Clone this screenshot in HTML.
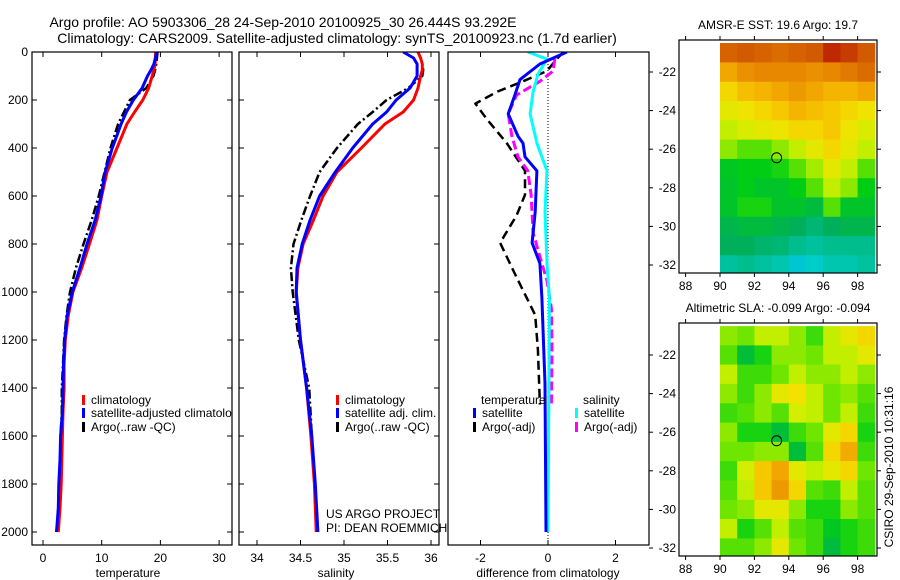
<!DOCTYPE html>
<html><head><meta charset="utf-8"><style>
html,body{margin:0;padding:0;background:#fff;}
svg{display:block;font-family:"Liberation Sans",sans-serif;}
</style></head><body>
<svg id="fig" width="900" height="580" viewBox="0 0 900 580" xmlns="http://www.w3.org/2000/svg">
<defs>
<clipPath id="c1"><rect x="32" y="52" width="200" height="493"/></clipPath>
<clipPath id="c2"><rect x="239" y="52" width="200" height="493"/></clipPath>
<clipPath id="c3"><rect x="448" y="52" width="201" height="493"/></clipPath>
<clipPath id="c2t"><rect x="239" y="40" width="210" height="510"/></clipPath>
</defs>
<text x="283" y="27" font-size="14" text-anchor="middle">Argo profile: AO 5903306_28 24-Sep-2010 20100925_30 26.444S 93.292E</text>
<text x="337" y="43" font-size="14" text-anchor="middle">Climatology: CARS2009. Satellite-adjusted climatology: synTS_20100923.nc (1.7d earlier)</text>
<g id="g1"></g>
<g id="g2"></g>
<g id="g3"></g>
<g id="g4"></g>
<g id="g5"></g>
<text transform="translate(893,467) rotate(-90)" font-size="12" text-anchor="middle">CSIRO 29-Sep-2010 10:31:16</text>
</svg>
<script>
// ---- profile data ----
const depthsT = [0,50,75,100,150,200,250,300,400,500,600,700,800,900,1000,1100,1200,1300,1400,1500,1600,1700,1800,1900,2000];
const tempClim = [19.2,19.1,18.9,18.6,18.0,17.0,15.6,14.3,12.6,10.9,10.0,9.2,7.9,6.6,5.1,4.3,3.8,3.6,3.6,3.4,3.3,3.2,3.1,2.9,2.6];
const tempSat  = [19.4,18.9,18.4,17.8,16.9,15.4,14.2,13.3,11.8,10.6,9.9,8.9,7.5,6.3,5.0,4.1,3.7,3.5,3.4,3.3,3.0,2.9,2.7,2.6,2.3];
const tempArgo = [19.5,19.3,19.1,18.8,17.6,14.8,13.8,12.8,11.5,10.5,9.5,8.3,6.9,5.6,4.6,4.0,3.6,3.4,3.2,3.2,3.0,2.9,2.7,2.6,2.3];
const depthsS = [0,25,50,75,100,150,200,250,300,400,500,600,700,800,900,1000,1200,1400,1600,1800,2000];
const salClim = [35.85,35.88,35.9,35.9,35.88,35.85,35.8,35.68,35.47,35.2,34.92,34.76,34.65,34.53,34.47,34.45,34.5,34.57,34.62,34.66,34.68];
const salSat  = [35.68,35.8,35.84,35.84,35.84,35.76,35.6,35.49,35.33,35.1,34.9,34.72,34.61,34.52,34.46,34.45,34.5,34.57,34.63,34.67,34.7];
const salArgo = [35.85,35.88,35.9,35.91,35.9,35.74,35.49,35.33,35.16,34.92,34.72,34.61,34.51,34.42,34.39,34.41,34.48,34.6,34.63,34.66,34.69];
const dTdepth = [0,50,115,179,258,351,380,437,495,666,795,881,1025,1383,2000];
const dTsat   = [0.56,-0.24,-0.83,-0.98,-1.18,-0.89,-0.74,-0.68,-0.33,-0.38,-0.47,-0.24,-0.18,-0.09,-0.06];
const dSdepth = [0,29,93,165,258,380,495,666,881,1025,2000];
const dSsat   = [-0.6,-0.03,-0.3,-0.44,-0.53,-0.33,-0.03,-0.09,-0.03,0.04,0.0];
const dTAdepth= [0,29,79,122,165,215,280,380,495,595,681,795,939,1096,1240,1469];
const dTargo  = [0.46,0.26,-0.03,-0.74,-1.5,-2.15,-1.81,-1.22,-0.68,-0.68,-0.93,-1.42,-0.93,-0.38,-0.3,-0.24];
const dSAdepth= [29,79,122,179,258,351,437,495,595,752,853,953,1068,1240,1469];
const dSargo  = [0.2,0.15,-0.24,-0.93,-1.18,-1.07,-0.89,-0.6,-0.5,-0.44,-0.24,-0.03,0.1,0.12,0.1];
const depthTicks = [0,200,400,600,800,1000,1200,1400,1600,1800,2000];
const tempTicks = [0,10,20,30];
const salTicks = [34,34.5,35,35.5,36];
const salTickLabels = ["34","34.5","35","35.5","36"];
const diffTicks = [-2,0,2];
// ---- map data (rows lat 21..32, cols lon 90..98), normalised colour index ----
const mapLons = [90,91,92,93,94,95,96,97,98];
const mapLats = [21,22,23,24,25,26,27,28,29,30,31,32];
const sstGrid = [
[0.9,0.92,0.9,0.88,0.9,0.92,0.97,0.95,0.92],
[0.75,0.8,0.82,0.82,0.82,0.8,0.82,0.85,0.88],
[0.65,0.7,0.72,0.75,0.78,0.75,0.72,0.72,0.75],
[0.6,0.62,0.65,0.68,0.72,0.7,0.68,0.65,0.62],
[0.55,0.58,0.6,0.62,0.65,0.65,0.68,0.62,0.58],
[0.5,0.45,0.45,0.5,0.55,0.6,0.65,0.6,0.55],
[0.36,0.38,0.38,0.4,0.45,0.52,0.6,0.55,0.45],
[0.35,0.38,0.35,0.35,0.38,0.45,0.55,0.5,0.38],
[0.35,0.4,0.4,0.35,0.35,0.32,0.45,0.35,0.35],
[0.3,0.32,0.32,0.3,0.28,0.25,0.28,0.3,0.3],
[0.28,0.28,0.26,0.25,0.22,0.2,0.22,0.22,0.22],
[0.2,0.22,0.2,0.18,0.12,0.15,0.18,0.18,0.2]];
const slaGrid = [
[0.5,0.47,0.55,0.55,0.5,0.43,0.55,0.6,0.65],
[0.45,0.33,0.4,0.5,0.5,0.47,0.55,0.55,0.6],
[0.55,0.43,0.43,0.47,0.55,0.5,0.5,0.55,0.5],
[0.5,0.43,0.5,0.6,0.63,0.55,0.47,0.5,0.45],
[0.43,0.45,0.5,0.45,0.57,0.55,0.47,0.55,0.43],
[0.5,0.4,0.4,0.33,0.43,0.47,0.6,0.65,0.4],
[0.47,0.47,0.5,0.5,0.33,0.45,0.65,0.74,0.43],
[0.43,0.57,0.68,0.75,0.6,0.55,0.6,0.65,0.47],
[0.45,0.55,0.68,0.78,0.65,0.45,0.43,0.55,0.45],
[0.47,0.5,0.6,0.6,0.5,0.4,0.4,0.5,0.45],
[0.55,0.4,0.45,0.55,0.45,0.43,0.36,0.4,0.43],
[0.45,0.45,0.5,0.6,0.47,0.43,0.32,0.4,0.43]];
const mapXTicks = [88,90,92,94,96,98];
const mapYTicks = [22,24,26,28,30,32];
const argoLon = 93.292, argoLat = 26.444;

const NS="http://www.w3.org/2000/svg";
function mk(parent,tag,attrs,text){const e=document.createElementNS(NS,tag);for(const k in attrs)e.setAttribute(k,attrs[k]);if(text!==undefined)e.textContent=text;parent.appendChild(e);return e;}
const yD = d => 52 + d*0.24;
function poly(g,xs,ds,fx,style,name,clip){
  const pts = xs.map((v,i)=>fx(v).toFixed(1)+","+yD(ds[i]).toFixed(1)).join(" ");
  const p = mk(g,"polyline",Object.assign({points:pts,fill:"none","clip-path":"url(#"+clip+")","stroke-linejoin":"round"},style));
  
  
}
function frame(g,x0,x1,name){
  const r=mk(g,"rect",{x:x0,y:52,width:x1-x0,height:493,fill:"none",stroke:"#000","stroke-width":1.2});
  
  
}
function xticks(g,vals,labels,fx,name){
  vals.forEach((v,i)=>{const x=fx(v);
    mk(g,"line",{x1:x,x2:x,y1:545,y2:540,stroke:"#000"});
    mk(g,"line",{x1:x,x2:x,y1:52,y2:57,stroke:"#000"});
    const t=mk(g,"text",{x:x,y:562,"font-size":12,"text-anchor":"middle"},labels[i]);
    
    
  });
}
function yticks(g,x0,x1,labels){
  depthTicks.forEach(d=>{const y=yD(d);
    mk(g,"line",{x1:x0,x2:x0+5,y1:y,y2:y,stroke:"#000"});
    mk(g,"line",{x1:x1,x2:x1-5,y1:y,y2:y,stroke:"#000"});
    if(labels){const t=mk(g,"text",{x:28,y:y+4,"font-size":12,"text-anchor":"end"},String(d));
      
      }
  });
}
function legend(g,x,y,color,label,name,clip){
  mk(g,"rect",{x:x,y:y-9,width:3,height:10,fill:color});
  const t=mk(g,"text",{x:x+9,y:y,"font-size":12},label);
  if(clip)t.setAttribute("clip-path","url(#"+clip+")");
  
  
}
// Panel 1
const g1=document.getElementById("g1");
const fT = v => 43 + v*5.87;
poly(g1,tempArgo,depthsT,fT,{stroke:"#000","stroke-width":2.5,"stroke-dasharray":"9,3,2,3"},"argo-temperature-line","c1");
poly(g1,tempClim,depthsT,fT,{stroke:"#f00","stroke-width":3},"climatology-temperature-line","c1");
poly(g1,tempSat,depthsT,fT,{stroke:"#00f","stroke-width":3},"satellite-temperature-line","c1");
frame(g1,32,232,"temperature-axes");
yticks(g1,32,232,true);
xticks(g1,tempTicks,tempTicks.map(String),fT,"temperature-tick-label");
mk(g1,"text",{x:128,y:577,"font-size":12,"text-anchor":"middle"},"temperature");
legend(g1,82,404,"#f00","climatology","legend-climatology",null);
legend(g1,82,417,"#00f","satellite-adjusted climatology","legend-satellite-adjusted","c1");
legend(g1,82,431,"#000","Argo(..raw -QC)","legend-argo",null);
// Panel 2
const g2=document.getElementById("g2");
const fS = v => 257 + (v-34)*87;
poly(g2,salArgo,depthsS,fS,{stroke:"#000","stroke-width":2.5,"stroke-dasharray":"9,3,2,3"},"argo-salinity-line","c2");
poly(g2,salClim,depthsS,fS,{stroke:"#f00","stroke-width":3},"climatology-salinity-line","c2");
poly(g2,salSat,depthsS,fS,{stroke:"#00f","stroke-width":3},"satellite-salinity-line","c2");
frame(g2,239,439,"salinity-axes");
yticks(g2,239,439,false);
xticks(g2,salTicks,salTickLabels,fS,"salinity-tick-label");
mk(g2,"text",{x:336,y:577,"font-size":12,"text-anchor":"middle"},"salinity");
legend(g2,336,404,"#f00","climatology","legend-climatology-2",null);
legend(g2,336,417,"#00f","satellite adj. clim.","legend-satellite-adj-2",null);
legend(g2,336,431,"#000","Argo(..raw -QC)","legend-argo-2",null);
mk(g2,"text",{x:326,y:518,"font-size":12},"US ARGO PROJECT");
mk(g2,"text",{x:326,y:532,"font-size":12,"clip-path":"url(#c2t)"},"PI: DEAN ROEMMICH");
// Panel 3
const g3=document.getElementById("g3");
const fD = v => 548 + v*33.75;
mk(g3,"line",{x1:548,x2:548,y1:52,y2:545,stroke:"#000","stroke-dasharray":"1,2"});
poly(g3,dTargo,dTAdepth,fD,{stroke:"#000","stroke-width":2.5,"stroke-dasharray":"9,5"},"argo-temperature-diff-line","c3");
poly(g3,dSargo,dSAdepth,fD,{stroke:"#f0f","stroke-width":3,"stroke-dasharray":"9,4"},"argo-salinity-diff-line","c3");
poly(g3,dSsat,dSdepth,fD,{stroke:"#0ff","stroke-width":3},"satellite-salinity-diff-line","c3");
poly(g3,dTsat,dTdepth,fD,{stroke:"#00f","stroke-width":3},"satellite-temperature-diff-line","c3");
frame(g3,448,649,"difference-axes");
xticks(g3,diffTicks,diffTicks.map(String),fD,"difference-tick-label");
mk(g3,"text",{x:548,y:577,"font-size":12,"text-anchor":"middle"},"difference from climatology");
mk(g3,"text",{x:481,y:404,"font-size":12},"temperature");
mk(g3,"text",{x:583,y:404,"font-size":12},"salinity");
legend(g3,473,417,"#00f","satellite","legend-temp-satellite",null);
legend(g3,473,431,"#000","Argo(-adj)","legend-temp-argo",null);
legend(g3,575,417,"#0ff","satellite","legend-sal-satellite",null);
legend(g3,575,431,"#f0f","Argo(-adj)","legend-sal-argo",null);
// Maps
const cstops=[[0,[0,170,255]],[0.15,[0,205,200]],[0.28,[0,175,90]],[0.38,[0,205,20]],[0.47,[110,230,0]],[0.56,[205,240,0]],[0.63,[245,225,0]],[0.72,[245,180,0]],[0.82,[232,135,0]],[0.92,[210,90,0]],[1,[180,10,0]]];
function cmap(v){for(let i=1;i<cstops.length;i++){if(v<=cstops[i][0]){const a=cstops[i-1],b=cstops[i];const t=(v-a[0])/(b[0]-a[0]);const c=a[1].map((x,k)=>Math.round(x+(b[1][k]-x)*t));return "rgb("+c.join(",")+")";}}return "rgb(180,10,0)";}
function drawMap(id,top,grid,title,name){
  const g=document.getElementById(id);
  const bot=top+233;
  const fx = lon => 720 + (lon-90)*17.2;
  const fy = lat => top + 32 + (lat-22)*19.3;
  grid.forEach((row,r)=>row.forEach((v,c)=>{
    const x0=fx(mapLons[c]), y0=Math.max(top,fy(mapLats[r]-0.5));
    const y1=Math.min(bot,fy(mapLats[r]+0.5));
    const x1=Math.min(876,fx(mapLons[c]+1));
    const cell=mk(g,"rect",{x:x0.toFixed(1),y:y0.toFixed(1),width:(x1-x0+0.5).toFixed(1),height:(y1-y0+0.5).toFixed(1),fill:cmap(v)});
    
    
  }));
  const bx=mk(g,"rect",{x:679,y:top,width:198,height:bot-top,fill:"none",stroke:"#000","stroke-width":1.2});
  
  
  mapXTicks.forEach(l=>{const x=fx(l);
    mk(g,"line",{x1:x,x2:x,y1:bot,y2:bot+4,stroke:"#000"});
    mk(g,"line",{x1:x,x2:x,y1:top,y2:top-4,stroke:"#000"});
    const t=mk(g,"text",{x:x,y:bot+17,"font-size":12,"text-anchor":"middle"},String(l));
    
    });
  mapYTicks.forEach(l=>{const y=fy(l);
    mk(g,"line",{x1:877,x2:881,y1:y,y2:y,stroke:"#000"});
    mk(g,"line",{x1:649,x2:653,y1:y,y2:y,stroke:"#000"});
    const t=mk(g,"text",{x:676,y:y+4,"font-size":12,"text-anchor":"end"},"-"+l);
    
    });
  const c=mk(g,"circle",{cx:fx(argoLon),cy:fy(argoLat),r:5,fill:"none",stroke:"#000","stroke-width":1});
  
  
  const t=mk(g,"text",{x:778,y:top-11,"font-size":12,"text-anchor":"middle"},title);
  
  
}
drawMap("g4",40,sstGrid,"AMSR-E SST: 19.6 Argo: 19.7","sst-map");
drawMap("g5",323,slaGrid,"Altimetric SLA: -0.099 Argo: -0.094","sla-map");
</script>
</body></html>
